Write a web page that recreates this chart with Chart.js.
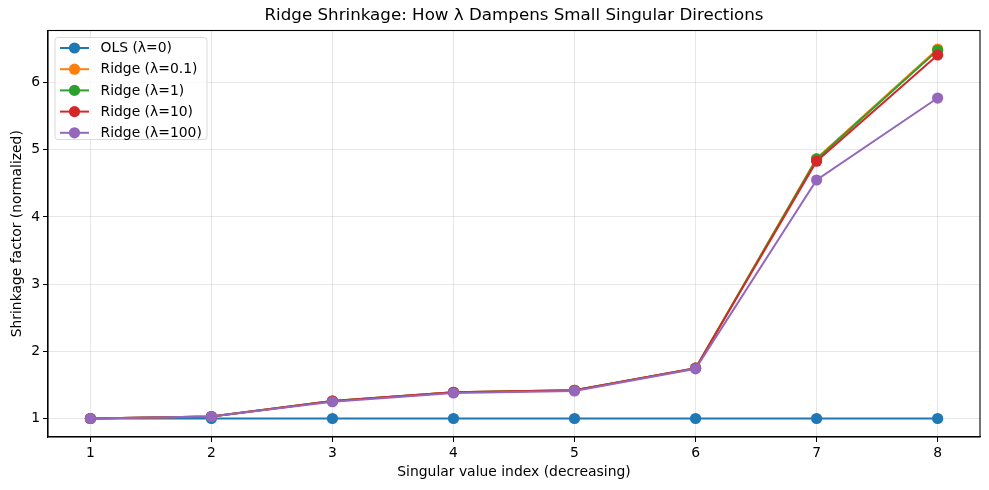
<!DOCTYPE html>
<html>
<head>
<meta charset="utf-8">
<script src="https://cdn.jsdelivr.net/npm/chart.js@4/dist/chart.umd.min.js"></script>
<style>
  html, body { margin: 0; padding: 0; background: #fff; }
  #wrap { width: 989px; height: 490px; }
</style>
</head>
<body>
<div id="wrap"><canvas id="c" width="989" height="490"></canvas></div>
<script>
const categories = [1, 2, 3, 4, 5, 6, 7, 8];
const xTickLabels = ['1', '2', '3', '4', '5', '6', '7', '8'];
const yTicks = [1, 2, 3, 4, 5, 6];
const chartTitle = 'Ridge Shrinkage: How λ Dampens Small Singular Directions';
const seriesLabels = ['OLS (λ=0)', 'Ridge (λ=0.1)', 'Ridge (λ=1)', 'Ridge (λ=10)', 'Ridge (λ=100)'];
const olsValues      = [1.00, 1.00, 1.00, 1.00, 1.00, 1.00, 1.00, 1.00];
const ridge01Values  = [1.00, 1.03, 1.26, 1.39, 1.42, 1.75, 4.87, 6.50];
const ridge1Values   = [1.00, 1.03, 1.26, 1.39, 1.42, 1.75, 4.86, 6.48];
const ridge10Values  = [1.00, 1.03, 1.26, 1.39, 1.42, 1.75, 4.83, 6.41];
const ridge100Values = [1.00, 1.03, 1.25, 1.38, 1.41, 1.74, 4.55, 5.77];
const seriesValues = [olsValues, ridge01Values, ridge1Values, ridge10Values, ridge100Values];
const colors = ['#1f77b4', '#ff7f0e', '#2ca02c', '#d62728', '#9467bd'];

const FONT = 'DejaVu Sans';

const datasets = seriesValues.map((vals, i) => ({
  label: seriesLabels[i],
  data: vals.map((v, j) => ({ x: categories[j], y: v })),
  borderColor: colors[i],
  backgroundColor: colors[i],
  pointBackgroundColor: colors[i],
  pointBorderColor: colors[i],
  pointBorderWidth: 0,
  pointRadius: 5.6,
  pointHoverRadius: 5.6,
  borderWidth: 2,
  tension: 0,
  fill: false,
  order: seriesValues.length - i,
  clip: false
}));

const framePlugin = {
  id: 'frame',
  afterDatasetsDraw(chart) {
    const { ctx, chartArea: a } = chart;
    ctx.save();
    ctx.strokeStyle = '#000';
    ctx.lineWidth = 1.1;
    ctx.strokeRect(a.left, a.top, a.right - a.left, a.bottom - a.top);
    ctx.restore();
  }
};

const titlePlugin = {
  id: 'axesTitle',
  afterDraw(chart) {
    const { ctx, chartArea: a } = chart;
    ctx.save();
    ctx.font = '16.7px "' + FONT + '"';
    ctx.fillStyle = '#000';
    ctx.textAlign = 'center';
    ctx.textBaseline = 'middle';
    ctx.fillText(chartTitle, (a.left + a.right) / 2, 16);
    ctx.restore();
  }
};

const legendPlugin = {
  id: 'customLegend',
  afterDraw(chart) {
    const { ctx, chartArea: a } = chart;
    const x0 = a.left + 7, y0 = a.top + 7;
    const w = 152, h = 102;
    ctx.save();
    ctx.beginPath();
    const r = 3;
    ctx.moveTo(x0 + r, y0);
    ctx.lineTo(x0 + w - r, y0);
    ctx.quadraticCurveTo(x0 + w, y0, x0 + w, y0 + r);
    ctx.lineTo(x0 + w, y0 + h - r);
    ctx.quadraticCurveTo(x0 + w, y0 + h, x0 + w - r, y0 + h);
    ctx.lineTo(x0 + r, y0 + h);
    ctx.quadraticCurveTo(x0, y0 + h, x0, y0 + h - r);
    ctx.lineTo(x0, y0 + r);
    ctx.quadraticCurveTo(x0, y0, x0 + r, y0);
    ctx.closePath();
    ctx.fillStyle = 'rgba(255,255,255,0.8)';
    ctx.fill();
    ctx.strokeStyle = '#d9d9d9';
    ctx.lineWidth = 1;
    ctx.stroke();
    ctx.font = '13.9px "' + FONT + '"';
    ctx.textBaseline = 'middle';
    ctx.textAlign = 'left';
    chart.data.datasets.forEach((ds, i) => {
      const cy = y0 + 10.5 + i * 21.2;
      ctx.strokeStyle = ds.borderColor;
      ctx.lineWidth = 2;
      ctx.beginPath();
      ctx.moveTo(x0 + 5, cy);
      ctx.lineTo(x0 + 34, cy);
      ctx.stroke();
      ctx.fillStyle = ds.borderColor;
      ctx.beginPath();
      ctx.arc(x0 + 19.5, cy, 5.6, 0, Math.PI * 2);
      ctx.fill();
      ctx.fillStyle = '#000';
      ctx.fillText(ds.label, x0 + 45.5, cy + 0.5);
    });
    ctx.restore();
  }
};

new Chart(document.getElementById('c'), {
  type: 'line',
  data: { datasets },
  plugins: [framePlugin, titlePlugin, legendPlugin],
  options: {
    responsive: false,
    animation: false,
    devicePixelRatio: 1,
    layout: { padding: { left: 0, right: 9, top: 30.5, bottom: 0 } },
    plugins: {
      legend: { display: false },
      tooltip: { enabled: false },
      title: { display: false }
    },
    scales: {
      x: {
        type: 'linear',
        min: 0.65,
        max: 8.35,
        afterFit(s) { s.height = 53; },
        afterBuildTicks(s) { s.ticks = categories.map(v => ({ value: v })); },
        ticks: {
          color: '#000',
          font: { family: FONT, size: 13.9 },
          padding: 3,
          maxRotation: 0,
          callback: (v) => { const k = categories.indexOf(v); return k >= 0 ? xTickLabels[k] : ''; }
        },
        grid: { color: 'rgba(176,176,176,0.3)', lineWidth: 1, tickColor: '#000', tickLength: 5, drawTicks: true },
        border: { color: '#000', width: 1.1 },
        title: {
          display: true,
          text: 'Singular value index (decreasing)',
          color: '#000',
          font: { family: FONT, size: 13.9 },
          padding: { top: 2, bottom: 9 }
        }
      },
      y: {
        type: 'linear',
        min: 0.725,
        max: 6.775,
        afterFit(s) { s.width = 48; },
        afterBuildTicks(s) { s.ticks = yTicks.map(v => ({ value: v })); },
        ticks: {
          color: '#000',
          font: { family: FONT, size: 13.9 },
          padding: 3,
          callback: (v) => String(v)
        },
        grid: { color: 'rgba(176,176,176,0.3)', lineWidth: 1, tickColor: '#000', tickLength: 5, drawTicks: true },
        border: { color: '#000', width: 1.1 },
        title: {
          display: true,
          text: 'Shrinkage factor (normalized)',
          color: '#000',
          font: { family: FONT, size: 13.9 },
          padding: { top: 9, bottom: 2 }
        }
      }
    }
  }
});
</script>
</body>
</html>
